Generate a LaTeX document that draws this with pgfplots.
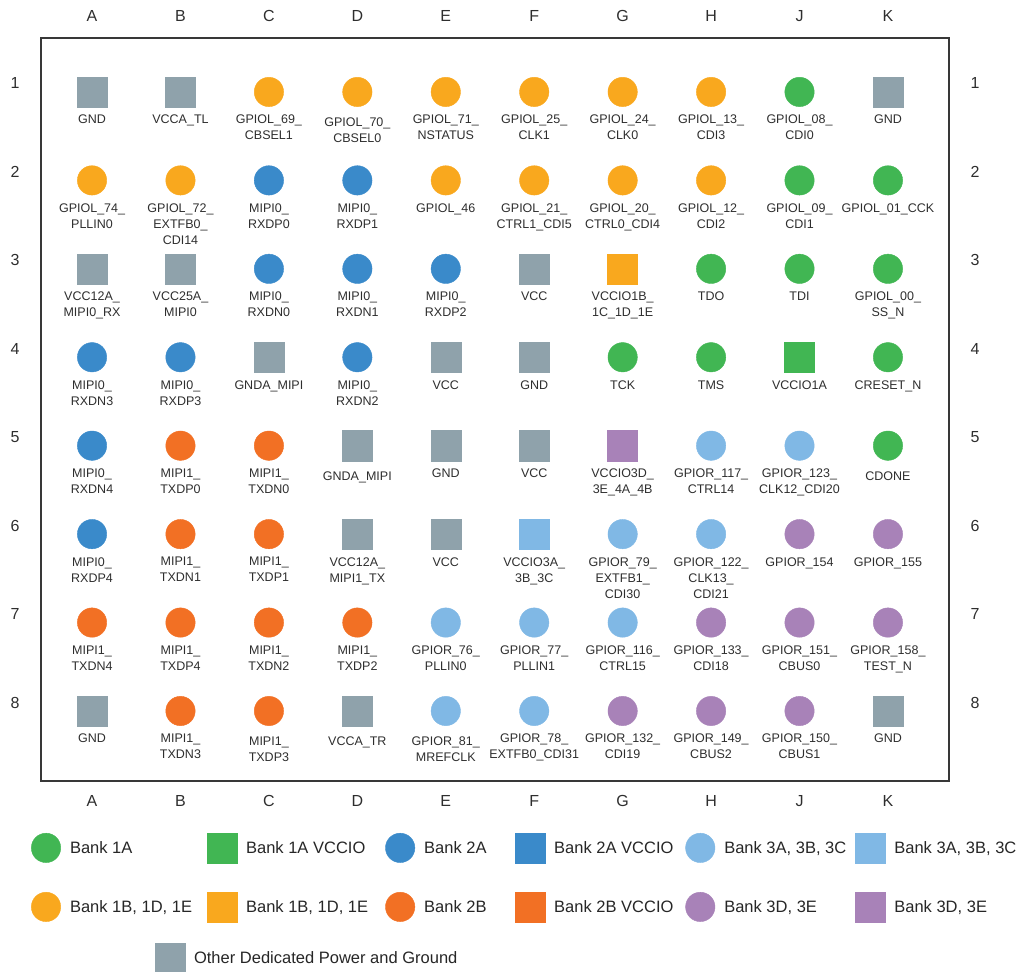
\documentclass[border=0pt]{standalone}
\usepackage{fontspec}
\setmainfont{Liberation Sans}
\usepackage{pgfplots}
\pgfplotsset{compat=1.18}
\definecolor{cGreen}{HTML}{41B653}
\definecolor{cBlue}{HTML}{3A8ACA}
\definecolor{cLBlue}{HTML}{80B8E5}
\definecolor{cOrange}{HTML}{F9A81E}
\definecolor{cRed}{HTML}{F27024}
\definecolor{cPurple}{HTML}{A882B8}
\definecolor{cGray}{HTML}{8FA2AB}
\pgfplotsset{
  pc/.style={only marks, mark=*, mark size=14.7pt, color=#1, mark options={draw=none, fill=#1}},
  ps/.style={only marks, mark=square*, mark size=15pt, color=#1, mark options={draw=none, fill=#1}},
  myleg/.style={
    legend image code/.code={\draw[##1] plot coordinates {(15pt,0pt)}; \path[draw=none, fill=none] (0pt,-15pt) rectangle (39pt,15pt);},
    legend cell align=left,
  },
}
\tikzset{
  lbl/.style={anchor=north, inner sep=0pt, align=center, yshift=-23pt, text=black!82,
    font=\fontsize{12.5}{16}\selectfont},
  tl/.style={inner sep=0pt, text=black!82, font=\fontsize{16}{19}\selectfont},
}
\newcommand{\lab}[4][0]{\node[lbl, yshift=-#1pt] at (axis cs:#2,-#3) {#4};}
\newcommand{\coltl}[2]{\node[tl] at (axis cs:#1,-0.141) {#2};\node[tl] at (axis cs:#1,-9.016) {#2};}
\newcommand{\rowtl}[2]{\node[tl] at (axis cs:0.129,#2) {#1};\node[tl] at (axis cs:10.984,#2) {#1};}
\begin{document}
\begin{tikzpicture}
\begin{axis}[name=main,
  x=88.4pt, y=88.4pt,
  xmin=0.423, xmax=10.69, ymin=-8.79, ymax=-0.39,
  axis line style={black!78, line width=1.3pt},
  xtick=\empty, ytick=\empty, clip=false,
  myleg, legend columns=6,
  legend style={at={(-0.011,-0.070)}, anchor=north west, draw=none, fill=none,
    inner sep=0pt, outer sep=0pt, row sep=29pt, column sep=0pt,
    nodes={inner sep=0pt, outer sep=0pt}, text=black!85,
    font=\fontsize{16.5}{19}\selectfont},
]
% Bank 1A
\addplot[pc=cGreen, forget plot] coordinates {(9,-1)(9,-2)(10,-2)(8,-3)(9,-3)(10,-3)(7,-4)(8,-4)(10,-4)(10,-5)};
\addplot[ps=cGreen, forget plot] coordinates {(9,-4)};
% Bank 2A
\addplot[pc=cBlue, forget plot] coordinates {(3,-2)(4,-2)(3,-3)(4,-3)(5,-3)(1,-4)(2,-4)(4,-4)(1,-5)(1,-6)};
% Bank 3A 3B 3C
\addplot[pc=cLBlue, forget plot] coordinates {(8,-5)(9,-5)(7,-6)(8,-6)(5,-7)(6,-7)(7,-7)(5,-8)(6,-8)};
\addplot[ps=cLBlue, forget plot] coordinates {(6,-6)};
% Bank 1B 1D 1E
\addplot[pc=cOrange, forget plot] coordinates {(3,-1)(4,-1)(5,-1)(6,-1)(7,-1)(8,-1)(1,-2)(2,-2)(5,-2)(6,-2)(7,-2)(8,-2)};
\addplot[ps=cOrange, forget plot] coordinates {(7,-3)};
% Bank 2B
\addplot[pc=cRed, forget plot] coordinates {(2,-5)(3,-5)(2,-6)(3,-6)(1,-7)(2,-7)(3,-7)(4,-7)(2,-8)(3,-8)};
% Bank 3D 3E
\addplot[pc=cPurple, forget plot] coordinates {(9,-6)(10,-6)(8,-7)(9,-7)(10,-7)(7,-8)(8,-8)(9,-8)};
\addplot[ps=cPurple, forget plot] coordinates {(7,-5)};
% Other power / ground
\addplot[ps=cGray, forget plot] coordinates {(1,-1)(2,-1)(10,-1)(1,-3)(2,-3)(6,-3)(3,-4)(5,-4)(6,-4)(4,-5)(5,-5)(6,-5)(4,-6)(5,-6)(1,-8)(4,-8)(10,-8)};

\addlegendimage{pc=cGreen}\addlegendentry{\makebox[137pt][l]{Bank 1A}}
\addlegendimage{ps=cGreen}\addlegendentry{\makebox[139pt][l]{Bank 1A VCCIO}}
\addlegendimage{pc=cBlue}\addlegendentry{\makebox[91pt][l]{Bank 2A}}
\addlegendimage{ps=cBlue}\addlegendentry{\makebox[131pt][l]{Bank 2A VCCIO}}
\addlegendimage{pc=cLBlue}\addlegendentry{\makebox[131pt][l]{Bank 3A, 3B, 3C}}
\addlegendimage{ps=cLBlue}\addlegendentry{Bank 3A, 3B, 3C}
\addlegendimage{pc=cOrange}\addlegendentry{\makebox[137pt][l]{Bank 1B, 1D, 1E}}
\addlegendimage{ps=cOrange}\addlegendentry{\makebox[139pt][l]{Bank 1B, 1D, 1E}}
\addlegendimage{pc=cRed}\addlegendentry{\makebox[91pt][l]{Bank 2B}}
\addlegendimage{ps=cRed}\addlegendentry{\makebox[131pt][l]{Bank 2B VCCIO}}
\addlegendimage{pc=cPurple}\addlegendentry{\makebox[131pt][l]{Bank 3D, 3E}}
\addlegendimage{ps=cPurple}\addlegendentry{Bank 3D, 3E}

% column and row labels
\coltl{1}{A}\coltl{2}{B}\coltl{3}{C}\coltl{4}{D}\coltl{5}{E}
\coltl{6}{F}\coltl{7}{G}\coltl{8}{H}\coltl{9}{J}\coltl{10}{K}
\rowtl{1}{-0.904}\rowtl{2}{-1.904}\rowtl{3}{-2.904}\rowtl{4}{-3.904}
\rowtl{5}{-4.904}\rowtl{6}{-5.904}\rowtl{7}{-6.904}\rowtl{8}{-7.904}

% row 1
\lab{1}{1}{GND}
\lab{2}{1}{VCCA\_TL}
\lab{3}{1}{GPIOL\_69\_\\CBSEL1}
\lab[3]{4}{1}{GPIOL\_70\_\\CBSEL0}
\lab{5}{1}{GPIOL\_71\_\\NSTATUS}
\lab{6}{1}{GPIOL\_25\_\\CLK1}
\lab{7}{1}{GPIOL\_24\_\\CLK0}
\lab{8}{1}{GPIOL\_13\_\\CDI3}
\lab{9}{1}{GPIOL\_08\_\\CDI0}
\lab{10}{1}{GND}
% row 2
\lab{1}{2}{GPIOL\_74\_\\PLLIN0}
\lab{2}{2}{GPIOL\_72\_\\EXTFB0\_\\CDI14}
\lab{3}{2}{MIPI0\_\\RXDP0}
\lab{4}{2}{MIPI0\_\\RXDP1}
\lab{5}{2}{GPIOL\_46}
\lab{6}{2}{GPIOL\_21\_\\CTRL1\_CDI5}
\lab{7}{2}{GPIOL\_20\_\\CTRL0\_CDI4}
\lab{8}{2}{GPIOL\_12\_\\CDI2}
\lab{9}{2}{GPIOL\_09\_\\CDI1}
\lab{10}{2}{GPIOL\_01\_CCK}
% row 3
\lab{1}{3}{VCC12A\_\\MIPI0\_RX}
\lab{2}{3}{VCC25A\_\\MIPI0}
\lab{3}{3}{MIPI0\_\\RXDN0}
\lab{4}{3}{MIPI0\_\\RXDN1}
\lab{5}{3}{MIPI0\_\\RXDP2}
\lab{6}{3}{VCC}
\lab{7}{3}{VCCIO1B\_\\1C\_1D\_1E}
\lab{8}{3}{TDO}
\lab{9}{3}{TDI}
\lab{10}{3}{GPIOL\_00\_\\SS\_N}
% row 4
\lab{1}{4}{MIPI0\_\\RXDN3}
\lab{2}{4}{MIPI0\_\\RXDP3}
\lab{3}{4}{GNDA\_MIPI}
\lab{4}{4}{MIPI0\_\\RXDN2}
\lab{5}{4}{VCC}
\lab{6}{4}{GND}
\lab{7}{4}{TCK}
\lab{8}{4}{TMS}
\lab{9}{4}{VCCIO1A}
\lab{10}{4}{CRESET\_N}
% row 5
\lab{1}{5}{MIPI0\_\\RXDN4}
\lab{2}{5}{MIPI1\_\\TXDP0}
\lab{3}{5}{MIPI1\_\\TXDN0}
\lab[3]{4}{5}{GNDA\_MIPI}
\lab{5}{5}{GND}
\lab{6}{5}{VCC}
\lab{7}{5}{VCCIO3D\_\\3E\_4A\_4B}
\lab{8}{5}{GPIOR\_117\_\\CTRL14}
\lab{9}{5}{GPIOR\_123\_\\CLK12\_CDI20}
\lab[3]{10}{5}{CDONE}
% row 6
\lab{1}{6}{MIPI0\_\\RXDP4}
\lab{2}{6}{MIPI1\_\\TXDN1}
\lab{3}{6}{MIPI1\_\\TXDP1}
\lab{4}{6}{VCC12A\_\\MIPI1\_TX}
\lab{5}{6}{VCC}
\lab{6}{6}{VCCIO3A\_\\3B\_3C}
\lab{7}{6}{GPIOR\_79\_\\EXTFB1\_\\CDI30}
\lab{8}{6}{GPIOR\_122\_\\CLK13\_\\CDI21}
\lab{9}{6}{GPIOR\_154}
\lab{10}{6}{GPIOR\_155}
% row 7
\lab{1}{7}{MIPI1\_\\TXDN4}
\lab{2}{7}{MIPI1\_\\TXDP4}
\lab{3}{7}{MIPI1\_\\TXDN2}
\lab{4}{7}{MIPI1\_\\TXDP2}
\lab{5}{7}{GPIOR\_76\_\\PLLIN0}
\lab{6}{7}{GPIOR\_77\_\\PLLIN1}
\lab{7}{7}{GPIOR\_116\_\\CTRL15}
\lab{8}{7}{GPIOR\_133\_\\CDI18}
\lab{9}{7}{GPIOR\_151\_\\CBUS0}
\lab{10}{7}{GPIOR\_158\_\\TEST\_N}
% row 8
\lab{1}{8}{GND}
\lab{2}{8}{MIPI1\_\\TXDN3}
\lab[3]{3}{8}{MIPI1\_\\TXDP3}
\lab[3]{4}{8}{VCCA\_TR}
\lab[3]{5}{8}{GPIOR\_81\_\\MREFCLK}
\lab{6}{8}{GPIOR\_78\_\\EXTFB0\_CDI31}
\lab{7}{8}{GPIOR\_132\_\\CDI19}
\lab{8}{8}{GPIOR\_149\_\\CBUS2}
\lab{9}{8}{GPIOR\_150\_\\CBUS1}
\lab{10}{8}{GND}
\end{axis}

\begin{axis}[at={(main.south west)}, anchor=south west,
  x=88.4pt, y=88.4pt,
  xmin=0.423, xmax=10.69, ymin=-8.79, ymax=-0.39,
  hide axis, myleg,
  legend style={at={(0.1256,-0.218)}, anchor=north west, draw=none, fill=none,
    inner sep=0pt, outer sep=0pt, column sep=0pt,
    nodes={inner sep=0pt, outer sep=0pt}, text=black!85,
    font=\fontsize{16.5}{19}\selectfont},
]
\addplot[draw=none, forget plot] coordinates {(1,-1)};
\addlegendimage{ps=cGray}\addlegendentry{Other Dedicated Power and Ground}
\end{axis}
\pgfresetboundingbox
\useasboundingbox ([xshift=-41pt,yshift=-191pt]main.south west) rectangle ([xshift=76pt,yshift=38pt]main.north east);
\end{tikzpicture}
\end{document}
